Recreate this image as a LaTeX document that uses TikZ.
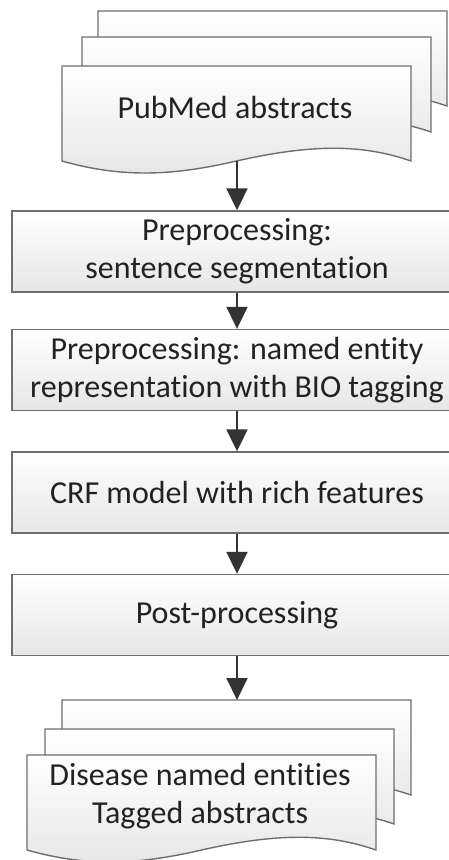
\documentclass[tikz,border=0pt]{standalone}
\usepackage{fontspec}
\setmainfont[Ligatures={NoCommon}]{Carlito}
\usetikzlibrary{arrows.meta}
\definecolor{edgegray}{HTML}{6E6E6E}
\definecolor{arrowgray}{HTML}{333333}
\definecolor{txtgray}{HTML}{222222}
\definecolor{shadegray}{HTML}{E6E6E6}
\tikzset{
  docfill/.style={draw=edgegray, line width=1.4pt, top color=white, bottom color=shadegray},
  procbox/.style={draw=edgegray, line width=1.4pt, top color=white, bottom color=shadegray,
    minimum width=450pt, minimum height=81pt, inner sep=0pt, align=center,
    font=\fontsize{32}{38}\selectfont, text=txtgray},
  label/.style={inner sep=0pt, align=center, font=\fontsize{32}{38}\selectfont, text=txtgray},
  flow/.style={draw=arrowgray, line width=2pt, -{Triangle[width=21pt,length=22pt]}},
  docpage/.pic={
    \path[docfill] (0,0) -- (349,0) -- (349,95)
      .. controls (300,78) and (250,78) .. (174.5,95)
      .. controls (110,110) and (60,112) .. (0,95) -- cycle;
  }
}
\begin{document}
\begin{tikzpicture}[x=1pt,y=-1pt]
\useasboundingbox (0,0) rectangle (449,860);
\clip (0,0) rectangle (449,860);
% top stack
\pic at (98,11) {docpage};
\pic at (82,37) {docpage};
\pic at (62,66) {docpage};
\node[label] (pubmed) at (235,108) {PubMed abstracts};
\coordinate (pubmedbot) at (237,161);
% process boxes
\node[procbox] (seg) at (237,251.5) {Preprocessing:\\sentence segmentation};
\node[procbox] (bio) at (237,370) {Preprocessing: named entity\\representation with BIO tagging};
\node[procbox] (crf) at (237,492.5) {CRF model with rich features};
\node[procbox] (post) at (237,615) {Post-processing};
% bottom stack
\pic at (62,700) {docpage};
\pic at (45,729) {docpage};
\pic at (27,755) {docpage};
\coordinate (outtop) at (237,700);
\node[label] (out) at (200,796) {Disease named entities\\Tagged abstracts};
% arrows
\draw[flow] (pubmedbot) -- (seg.north);
\draw[flow] (seg.south) -- (bio.north);
\draw[flow] (bio.south) -- (crf.north);
\draw[flow] (crf.south) -- (post.north);
\draw[flow] (post.south) -- (outtop);
\end{tikzpicture}
\end{document}
